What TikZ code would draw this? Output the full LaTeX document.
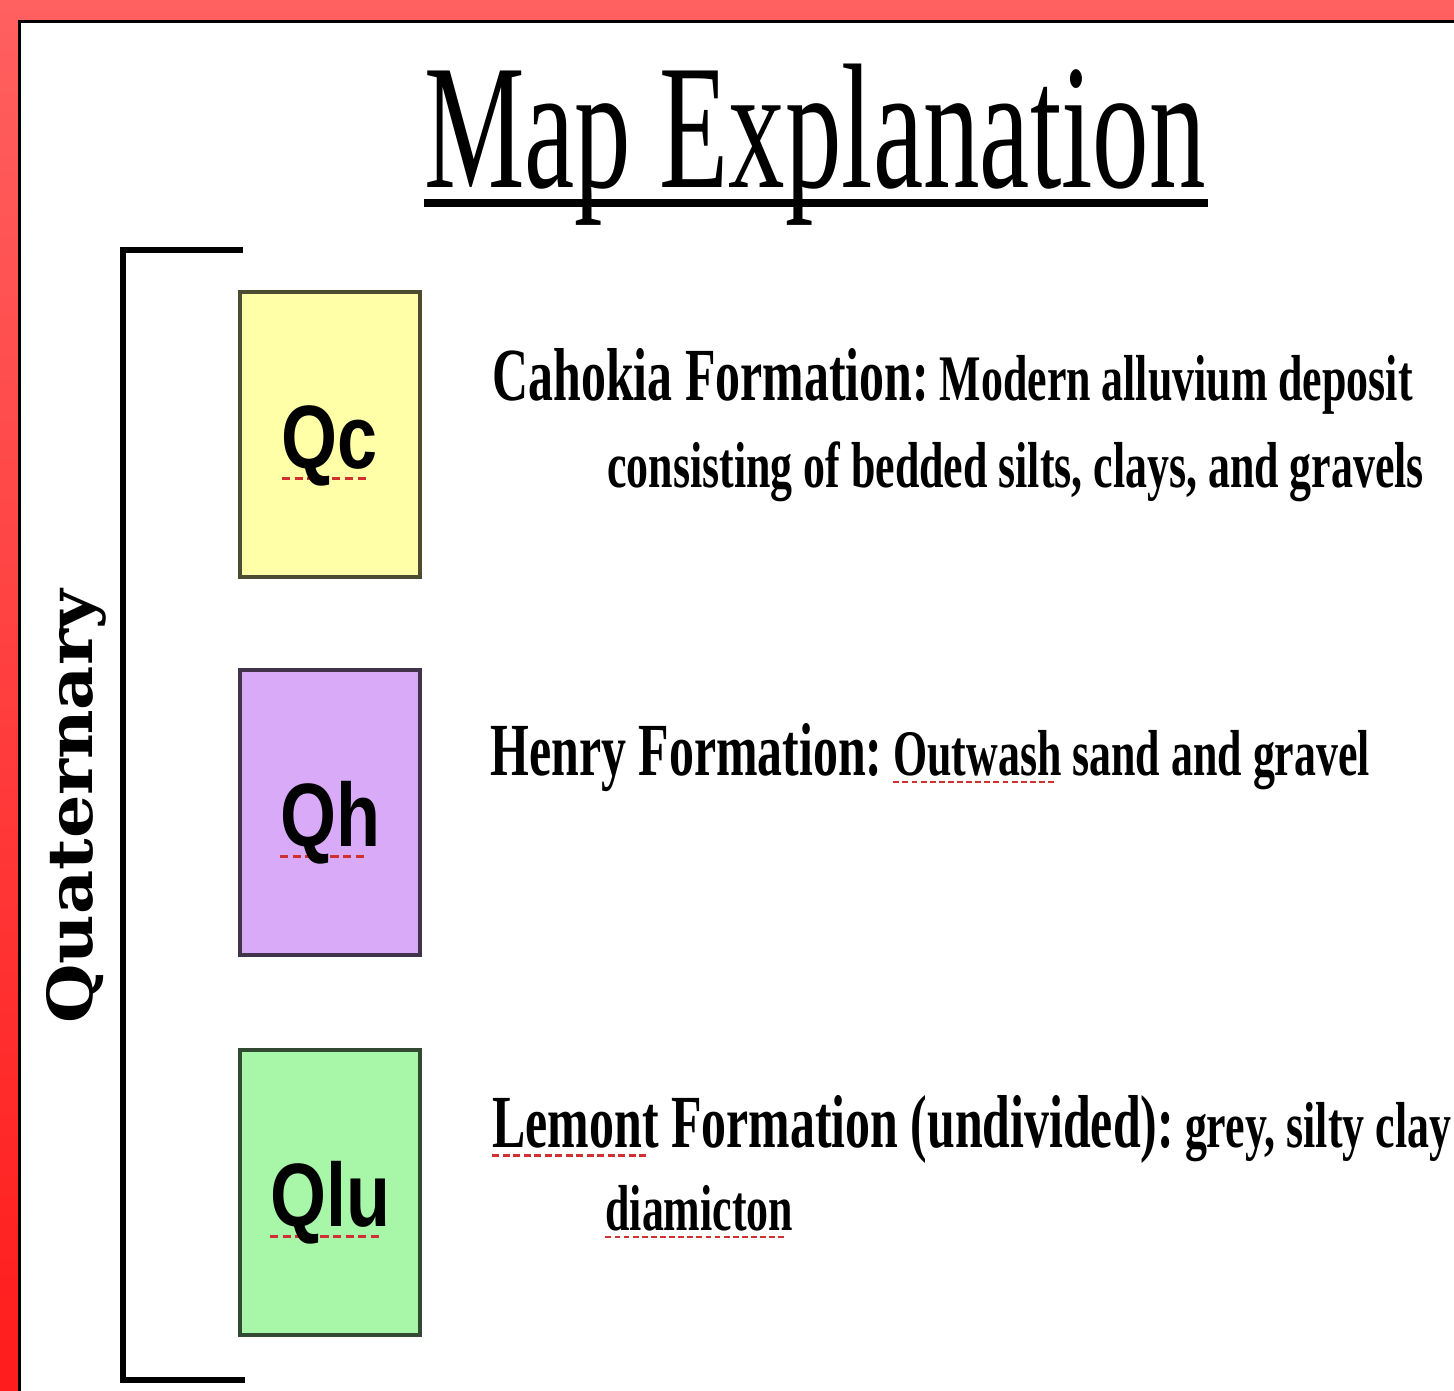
\documentclass[tikz,border=0pt]{standalone}
\usepackage{fontspec}
\usepackage{tikz}
\usetikzlibrary{positioning, calc}
\setmainfont{Liberation Serif}
\newfontfamily\titlefont[FakeStretch=0.635]{Liberation Serif}
\newfontfamily\namefont[FakeStretch=0.665]{Liberation Serif}
\newfontfamily\legfont[FakeStretch=0.675]{Liberation Serif}
\newfontfamily\unitfont[FakeStretch=0.8]{Liberation Sans}
\newfontfamily\agefont[FakeStretch=1.1]{DejaVu Serif}
\definecolor{frametop}{HTML}{FF6060}
\definecolor{framebot}{HTML}{FF1C1C}
\definecolor{qcfill}{HTML}{FFFFA8}
\definecolor{qhfill}{HTML}{D8AAF8}
\definecolor{qlufill}{HTML}{A8F7A8}
\definecolor{spellred}{HTML}{D03030}
% red dotted spell-check mark under a word
\newsavebox{\spellbox}
\newcommand{\spell}[1]{\sbox{\spellbox}{#1}%
  \rlap{\textcolor{spellred}{\leaders\hbox{\rule[-0.13em]{0.09em}{0.035em}\hskip0.05em}\hskip\wd\spellbox}}%
  \usebox{\spellbox}}
\newcommand{\namesize}{\namefont\bfseries\fontsize{37.5}{40}\selectfont}
\newcommand{\descsize}{\legfont\bfseries\fontsize{32.5}{36}\selectfont}

\begin{document}
\begin{tikzpicture}[
    x=0.5pt, y=-0.5pt,
    unitbox/.style = {draw=#1!30!black, fill=#1, line width=1.6pt,
                      minimum width=90pt, minimum height=142.5pt, inner sep=0pt,
                      text height=37pt, text depth=3pt,
                      font=\unitfont\bfseries\fontsize{45}{48}\selectfont},
    legline/.style = {anchor=base west, inner sep=0pt},
    bracket/.style = {line width=2.6pt, line cap=rect},
]

% fixed canvas, same size as the slide crop
\useasboundingbox (0,0) rectangle (1454,1390);

% --- slide frame ---------------------------------------------------------
\shade[top color=frametop, bottom color=framebot] (0,0) rectangle (1454,1390);
\fill[white] (19,22) rectangle (1460,1396);
\draw[line width=1.5pt] (19,1396) -- (19,22) -- (1460,22);

% --- title ---------------------------------------------------------------
\node[inner sep=0pt, anchor=base, font=\titlefont\fontsize{89}{95}\selectfont]
      (title) at (815,188) {Map Explanation};
\draw[line width=4pt] ([yshift=-7.5pt]title.base west) -- ([yshift=-7.5pt,xshift=1pt]title.base east);

% --- age bracket ---------------------------------------------------------
\coordinate (brtop) at (240,250);
\coordinate (brbot) at (242,1380);
\draw[bracket] (brtop) -- (123,250) -- (123,1380) -- (brbot);
\node[rotate=90, inner sep=0pt, font=\agefont\bfseries\fontsize{31}{34}\selectfont]
      (age) at (76,807) {Quaternary};

% --- map units -----------------------------------------------------------
\node[unitbox=qcfill]  (qc)  at (330,434.5)  {\spell{Qc}};
\node[unitbox=qhfill]  (qh)  at (330,812.5)  {\spell{Qh}};
\node[unitbox=qlufill] (qlu) at (330,1192.5) {\spell{Qlu}};

% --- descriptions --------------------------------------------------------
\node[legline] (cahokia) at (492,400)
      {\namesize Cahokia Formation:\descsize\ Modern alluvium deposit};
\node[legline] (cahokia2) at (607,487)
      {\descsize consisting of bedded silts, clays, and gravels};
\node[legline] (henry) at (490,775)
      {\namesize Henry Formation:\descsize\ \spell{Outwash} sand and gravel};
\node[legline] (lemont) at (492,1147)
      {\namesize \spell{Lemont} Formation (undivided):\descsize\ grey, silty clay};
\node[legline] (lemont2) at (605,1230)
      {\descsize \spell{diamicton}};

\end{tikzpicture}
\end{document}
